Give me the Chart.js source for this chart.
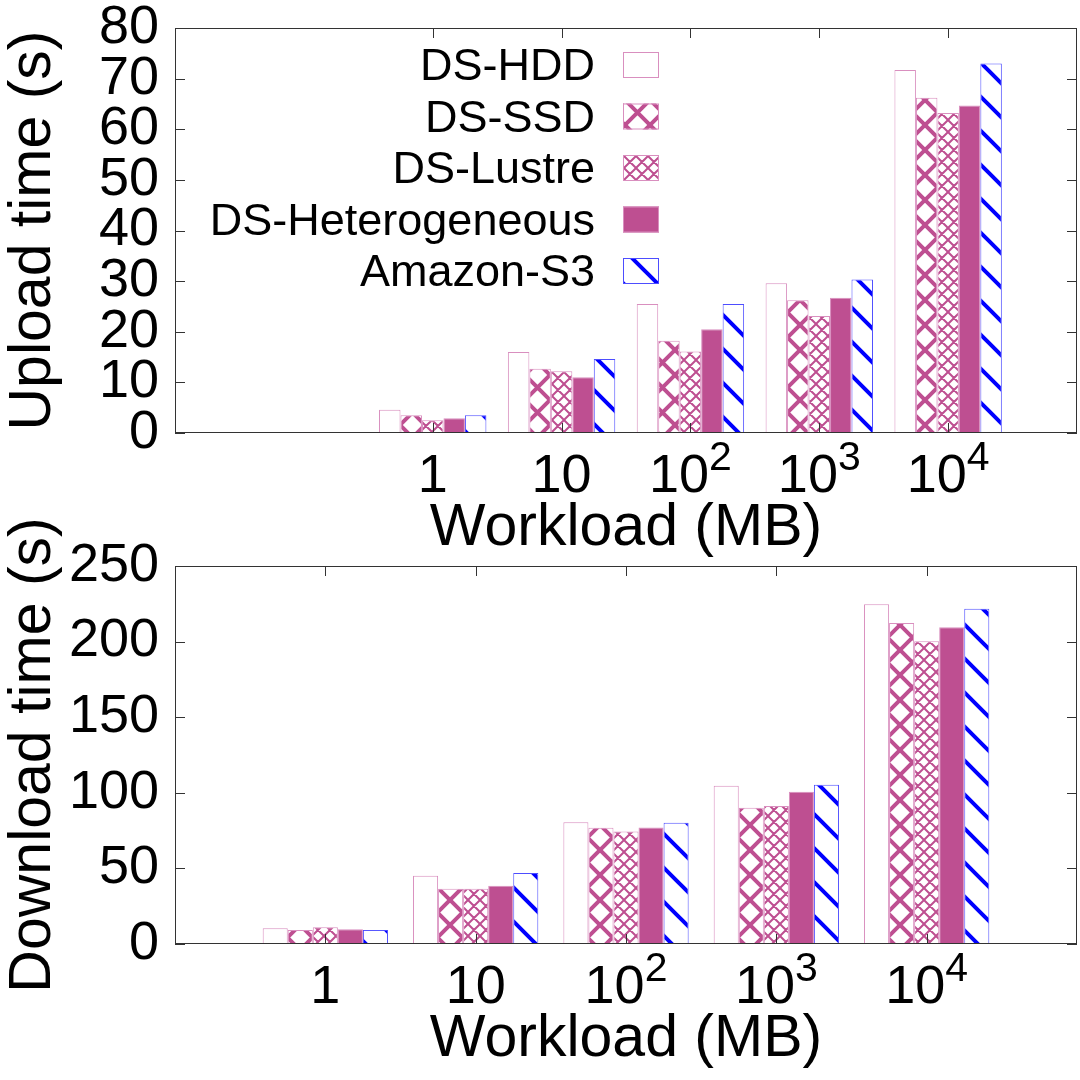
<!DOCTYPE html>
<html>
<head>
<meta charset="utf-8">
<script src="https://cdn.jsdelivr.net/npm/chart.js@4.4.1/dist/chart.umd.min.js"></script>
<style>
  body { margin: 0; background: #fff; }
  .wrap { position: relative; width: 1080px; height: 1080px; }
  canvas { position: absolute; left: 0; top: 0; }
</style>
</head>
<body>
<div class="wrap">
  <canvas id="upload" width="1080" height="1080"></canvas>
  <canvas id="download" width="1080" height="1080"></canvas>
</div>
<script>
const workloads = ['1', '10', '10^2', '10^3', '10^4'];
const seriesNames = ['DS-HDD', 'DS-SSD', 'DS-Lustre', 'DS-Heterogeneous', 'Amazon-S3'];

// upload time (s)
const uploadHDD = [4.6, 16.0, 25.5, 29.6, 71.7];
const uploadSSD = [3.5, 12.7, 18.2, 26.2, 66.2];
const uploadLustre = [2.5, 12.2, 16.1, 23.1, 63.2];
const uploadHet = [2.9, 11.0, 20.5, 26.7, 64.7];
const uploadS3 = [3.5, 14.6, 25.5, 30.3, 73.0];
const uploadTicks = [0, 10, 20, 30, 40, 50, 60, 70, 80];

// download time (s)
const downloadHDD = [10.4, 45.2, 80.6, 104.6, 224.7];
const downloadSSD = [9.3, 36.5, 76.9, 90.1, 212.3];
const downloadLustre = [11.1, 36.5, 74.4, 91.2, 200.2];
const downloadHet = [9.7, 38.5, 77.1, 100.7, 209.5];
const downloadS3 = [9.3, 46.9, 80.2, 105.3, 221.8];
const downloadTicks = [0, 50, 100, 150, 200, 250];

const FONT = '"Liberation Sans", Arial, sans-serif';
const PINK = '#be4f91';
const PINK_EDGE = '#d98fbf';
const BLUE = '#0000ff';

Chart.defaults.font.family = FONT;
Chart.defaults.color = '#000';

function hatch(size, width, color, dirs) {
    const c = document.createElement('canvas');
    c.width = size;
    c.height = size;
    const g = c.getContext('2d');
    g.fillStyle = '#fff';
    g.fillRect(0, 0, size, size);
    g.strokeStyle = color;
    g.lineWidth = width;
    g.beginPath();
    for (let k = -1; k <= 1; k++) {
        if (dirs.includes('\\')) {
            g.moveTo(k * size - size, -size);
            g.lineTo(k * size + 2 * size, 2 * size);
        }
        if (dirs.includes('/')) {
            g.moveTo(k * size - size, 2 * size);
            g.lineTo(k * size + 2 * size, -size);
        }
    }
    g.stroke();
    return g.createPattern(c, 'repeat');
}

const styles = [
    { backgroundColor: '#fff', borderColor: PINK_EDGE },
    { backgroundColor: hatch(25, 4, PINK, '\\/'), borderColor: PINK_EDGE },
    { backgroundColor: hatch(12, 2, PINK, '\\/'), borderColor: PINK_EDGE },
    { backgroundColor: PINK, borderColor: PINK_EDGE },
    { backgroundColor: hatch(34, 4, BLUE, '\\'), borderColor: '#4d4dff' }
];

// frame with inward ticks on all four sides, plus 10^n tick labels
const framePlugin = {
    id: 'frame',
    afterDatasetsDraw(chart) {
        const { ctx, chartArea: a, scales: { x, y } } = chart;
        ctx.save();
        ctx.strokeStyle = '#333';
        ctx.lineWidth = 1;
        ctx.strokeRect(a.left + 0.5, a.top + 0.5, a.right - a.left - 1, a.bottom - a.top - 1);
        ctx.beginPath();
        y.ticks.forEach(t => {
            const py = Math.round(y.getPixelForValue(t.value)) + 0.5;
            ctx.moveTo(a.left, py);
            ctx.lineTo(a.left + 10, py);
            ctx.moveTo(a.right, py);
            ctx.lineTo(a.right - 10, py);
        });
        const labels = x.getLabels();
        labels.forEach((lab, i) => {
            if (!lab) return;
            const px = Math.round(x.getPixelForValue(i)) + 0.5;
            ctx.moveTo(px, a.top);
            ctx.lineTo(px, a.top + 10);
            ctx.moveTo(px, a.bottom);
            ctx.lineTo(px, a.bottom - 10);
        });
        ctx.stroke();

        ctx.fillStyle = '#000';
        ctx.textBaseline = 'alphabetic';
        ctx.textAlign = 'left';
        const base = a.bottom + 59;
        labels.forEach((lab, i) => {
            if (!lab) return;
            const [b, e] = lab.split('^');
            ctx.font = '54px ' + FONT;
            const wb = ctx.measureText(b).width;
            ctx.font = '41px ' + FONT;
            const we = e ? ctx.measureText(e).width : 0;
            const x0 = x.getPixelForValue(i) - (wb + we) / 2;
            ctx.font = '54px ' + FONT;
            ctx.fillText(b, x0, base);
            if (e) {
                ctx.font = '41px ' + FONT;
                ctx.fillText(e, x0 + wb, base - 22);
            }
        });
        ctx.restore();
    }
};

const legendPlugin = {
    id: 'boxLegend',
    afterDatasetsDraw(chart) {
        const { ctx, chartArea: a } = chart;
        const boxX = a.left + 448;
        const textX = a.left + 420;
        ctx.save();
        ctx.font = '45px ' + FONT;
        ctx.textAlign = 'right';
        ctx.textBaseline = 'middle';
        chart.data.datasets.forEach((ds, i) => {
            const cy = a.top + 37 + i * 51.5;
            ctx.fillStyle = ds.backgroundColor;
            ctx.fillRect(boxX, cy - 13, 36, 26);
            ctx.strokeStyle = ds.borderColor;
            ctx.lineWidth = 1;
            ctx.strokeRect(boxX + 0.5, cy - 12.5, 35, 25);
            ctx.fillStyle = '#000';
            ctx.fillText(ds.label, textX, cy + 3);
        });
        ctx.restore();
    }
};

function makeChart(id, series, tickVals, yTitle, lead, padding, withLegend) {
    const labels = [...Array(lead).fill(''), ...workloads, ''];
    const pad = v => [...Array(lead).fill(null), ...v, null];
    const datasets = series.map((vals, i) => ({
        label: seriesNames[i],
        data: pad(vals),
        backgroundColor: styles[i].backgroundColor,
        borderColor: styles[i].borderColor,
        borderWidth: 1,
        borderSkipped: false
    }));
    return new Chart(document.getElementById(id), {
        type: 'bar',
        data: { labels, datasets },
        plugins: withLegend ? [framePlugin, legendPlugin] : [framePlugin],
        options: {
            responsive: false,
            animation: false,
            devicePixelRatio: 1,
            layout: { padding },
            datasets: { bar: { categoryPercentage: 5 / 6, barPercentage: 1 } },
            plugins: { legend: { display: false }, tooltip: { enabled: false } },
            scales: {
                x: {
                    type: 'category',
                    offset: false,
                    grid: { display: false, offset: false },
                    border: { display: false },
                    ticks: { display: false, autoSkip: false },
                    title: {
                        display: true,
                        text: 'Workload (MB)',
                        font: { size: 59, lineHeight: 1 },
                        padding: { top: 0, bottom: 5 }
                    },
                    afterFit: s => { s.height = 130; }
                },
                y: {
                    min: tickVals[0],
                    max: tickVals[tickVals.length - 1],
                    grid: { display: false, drawTicks: false },
                    border: { display: false },
                    ticks: { font: { size: 54, lineHeight: 0.3 }, padding: 16, autoSkip: false },
                    afterBuildTicks: s => { s.ticks = tickVals.map(v => ({ value: v })); },
                    title: {
                        display: true,
                        text: yTitle,
                        font: { size: 59, lineHeight: 1 },
                        padding: { top: 4, bottom: 0 }
                    },
                    afterFit: s => { s.width = 175; }
                }
            }
        }
    });
}

makeChart('upload',
    [uploadHDD, uploadSSD, uploadLustre, uploadHet, uploadS3],
    uploadTicks, 'Upload time (s)', 2,
    { top: 28, right: 3, bottom: 517, left: 0 }, true);

makeChart('download',
    [downloadHDD, downloadSSD, downloadLustre, downloadHet, downloadS3],
    downloadTicks, 'Download time (s)', 1,
    { top: 566, right: 3, bottom: 6, left: 0 }, false);
</script>
</body>
</html>
